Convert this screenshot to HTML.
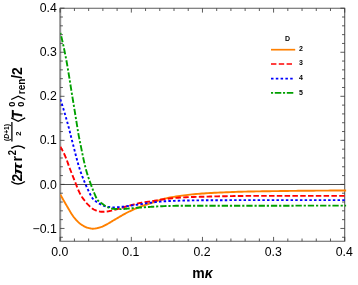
<!DOCTYPE html>
<html><head><meta charset="utf-8">
<style>
html,body{margin:0;padding:0;background:#fff;}
body{width:358px;height:285px;overflow:hidden;font-family:"Liberation Sans",sans-serif;}
svg{display:block;will-change:transform;opacity:0.999}
text{font-family:"Liberation Sans",sans-serif;fill:#000}
.tl{font-size:12.3px}
.b{font-weight:bold}
</style></head><body>
<svg width="358" height="285" viewBox="0 0 358 285">
<rect width="358" height="285" fill="#fff"/>
<!-- zero line -->
<line x1="60.2" y1="184.5" x2="344.7" y2="184.5" stroke="#222" stroke-width="0.8"/>
<!-- frame -->
<path d="M60.2,8.3 H344.7 V241.2 H60.2" fill="none" stroke="#5c5c5c" stroke-width="1.1"/>
<line x1="60.2" y1="7.8" x2="60.2" y2="241.8" stroke="#8e8e8e" stroke-width="2"/>
<defs><clipPath id="cp"><rect x="60.2" y="0" width="286.2" height="285"/></clipPath></defs>
<g id="ticks" stroke="#333" stroke-width="0.8"><line x1="60.20" y1="241.20" x2="60.20" y2="236.90"/><line x1="60.20" y1="8.30" x2="60.20" y2="12.60"/><line x1="74.43" y1="241.20" x2="74.43" y2="238.50"/><line x1="74.43" y1="8.30" x2="74.43" y2="11.00"/><line x1="88.65" y1="241.20" x2="88.65" y2="238.50"/><line x1="88.65" y1="8.30" x2="88.65" y2="11.00"/><line x1="102.88" y1="241.20" x2="102.88" y2="238.50"/><line x1="102.88" y1="8.30" x2="102.88" y2="11.00"/><line x1="117.10" y1="241.20" x2="117.10" y2="238.50"/><line x1="117.10" y1="8.30" x2="117.10" y2="11.00"/><line x1="131.33" y1="241.20" x2="131.33" y2="236.90"/><line x1="131.33" y1="8.30" x2="131.33" y2="12.60"/><line x1="145.56" y1="241.20" x2="145.56" y2="238.50"/><line x1="145.56" y1="8.30" x2="145.56" y2="11.00"/><line x1="159.78" y1="241.20" x2="159.78" y2="238.50"/><line x1="159.78" y1="8.30" x2="159.78" y2="11.00"/><line x1="174.01" y1="241.20" x2="174.01" y2="238.50"/><line x1="174.01" y1="8.30" x2="174.01" y2="11.00"/><line x1="188.23" y1="241.20" x2="188.23" y2="238.50"/><line x1="188.23" y1="8.30" x2="188.23" y2="11.00"/><line x1="202.46" y1="241.20" x2="202.46" y2="236.90"/><line x1="202.46" y1="8.30" x2="202.46" y2="12.60"/><line x1="216.69" y1="241.20" x2="216.69" y2="238.50"/><line x1="216.69" y1="8.30" x2="216.69" y2="11.00"/><line x1="230.91" y1="241.20" x2="230.91" y2="238.50"/><line x1="230.91" y1="8.30" x2="230.91" y2="11.00"/><line x1="245.14" y1="241.20" x2="245.14" y2="238.50"/><line x1="245.14" y1="8.30" x2="245.14" y2="11.00"/><line x1="259.36" y1="241.20" x2="259.36" y2="238.50"/><line x1="259.36" y1="8.30" x2="259.36" y2="11.00"/><line x1="273.59" y1="241.20" x2="273.59" y2="236.90"/><line x1="273.59" y1="8.30" x2="273.59" y2="12.60"/><line x1="287.82" y1="241.20" x2="287.82" y2="238.50"/><line x1="287.82" y1="8.30" x2="287.82" y2="11.00"/><line x1="302.04" y1="241.20" x2="302.04" y2="238.50"/><line x1="302.04" y1="8.30" x2="302.04" y2="11.00"/><line x1="316.27" y1="241.20" x2="316.27" y2="238.50"/><line x1="316.27" y1="8.30" x2="316.27" y2="11.00"/><line x1="330.49" y1="241.20" x2="330.49" y2="238.50"/><line x1="330.49" y1="8.30" x2="330.49" y2="11.00"/><line x1="344.72" y1="241.20" x2="344.72" y2="236.90"/><line x1="344.72" y1="8.30" x2="344.72" y2="12.60"/><line x1="60.20" y1="237.26" x2="62.90" y2="237.26"/><line x1="344.70" y1="237.26" x2="342.00" y2="237.26"/><line x1="60.20" y1="228.45" x2="64.50" y2="228.45"/><line x1="344.70" y1="228.45" x2="340.40" y2="228.45"/><line x1="60.20" y1="219.64" x2="62.90" y2="219.64"/><line x1="344.70" y1="219.64" x2="342.00" y2="219.64"/><line x1="60.20" y1="210.83" x2="62.90" y2="210.83"/><line x1="344.70" y1="210.83" x2="342.00" y2="210.83"/><line x1="60.20" y1="202.02" x2="62.90" y2="202.02"/><line x1="344.70" y1="202.02" x2="342.00" y2="202.02"/><line x1="60.20" y1="193.21" x2="62.90" y2="193.21"/><line x1="344.70" y1="193.21" x2="342.00" y2="193.21"/><line x1="60.20" y1="184.40" x2="64.50" y2="184.40"/><line x1="344.70" y1="184.40" x2="340.40" y2="184.40"/><line x1="60.20" y1="175.59" x2="62.90" y2="175.59"/><line x1="344.70" y1="175.59" x2="342.00" y2="175.59"/><line x1="60.20" y1="166.78" x2="62.90" y2="166.78"/><line x1="344.70" y1="166.78" x2="342.00" y2="166.78"/><line x1="60.20" y1="157.97" x2="62.90" y2="157.97"/><line x1="344.70" y1="157.97" x2="342.00" y2="157.97"/><line x1="60.20" y1="149.16" x2="62.90" y2="149.16"/><line x1="344.70" y1="149.16" x2="342.00" y2="149.16"/><line x1="60.20" y1="140.35" x2="64.50" y2="140.35"/><line x1="344.70" y1="140.35" x2="340.40" y2="140.35"/><line x1="60.20" y1="131.54" x2="62.90" y2="131.54"/><line x1="344.70" y1="131.54" x2="342.00" y2="131.54"/><line x1="60.20" y1="122.73" x2="62.90" y2="122.73"/><line x1="344.70" y1="122.73" x2="342.00" y2="122.73"/><line x1="60.20" y1="113.92" x2="62.90" y2="113.92"/><line x1="344.70" y1="113.92" x2="342.00" y2="113.92"/><line x1="60.20" y1="105.11" x2="62.90" y2="105.11"/><line x1="344.70" y1="105.11" x2="342.00" y2="105.11"/><line x1="60.20" y1="96.30" x2="64.50" y2="96.30"/><line x1="344.70" y1="96.30" x2="340.40" y2="96.30"/><line x1="60.20" y1="87.49" x2="62.90" y2="87.49"/><line x1="344.70" y1="87.49" x2="342.00" y2="87.49"/><line x1="60.20" y1="78.68" x2="62.90" y2="78.68"/><line x1="344.70" y1="78.68" x2="342.00" y2="78.68"/><line x1="60.20" y1="69.87" x2="62.90" y2="69.87"/><line x1="344.70" y1="69.87" x2="342.00" y2="69.87"/><line x1="60.20" y1="61.06" x2="62.90" y2="61.06"/><line x1="344.70" y1="61.06" x2="342.00" y2="61.06"/><line x1="60.20" y1="52.25" x2="64.50" y2="52.25"/><line x1="344.70" y1="52.25" x2="340.40" y2="52.25"/><line x1="60.20" y1="43.44" x2="62.90" y2="43.44"/><line x1="344.70" y1="43.44" x2="342.00" y2="43.44"/><line x1="60.20" y1="34.63" x2="62.90" y2="34.63"/><line x1="344.70" y1="34.63" x2="342.00" y2="34.63"/><line x1="60.20" y1="25.82" x2="62.90" y2="25.82"/><line x1="344.70" y1="25.82" x2="342.00" y2="25.82"/><line x1="60.20" y1="17.01" x2="62.90" y2="17.01"/><line x1="344.70" y1="17.01" x2="342.00" y2="17.01"/><line x1="60.20" y1="8.20" x2="64.50" y2="8.20"/><line x1="344.70" y1="8.20" x2="340.40" y2="8.20"/></g>
<!-- curves -->
<g clip-path="url(#cp)" fill="none" stroke-width="1.9" stroke-linejoin="round">
<path id="c2" stroke="#ff8000" d="M60.30,194.50 L60.80,195.41 L61.30,196.31 L61.80,197.20 L62.30,198.09 L62.80,198.98 L63.30,199.86 L63.80,200.74 L64.30,201.60 L64.80,202.47 L65.30,203.33 L65.80,204.18 L66.30,205.02 L66.80,205.87 L67.30,206.70 L67.80,207.55 L68.30,208.42 L68.80,209.28 L69.30,210.15 L69.80,211.01 L70.30,211.86 L70.80,212.69 L71.30,213.51 L71.80,214.31 L72.30,215.07 L72.80,215.80 L73.30,216.50 L73.80,217.15 L74.30,217.76 L74.80,218.36 L75.30,218.95 L75.80,219.52 L76.30,220.08 L76.80,220.62 L77.30,221.14 L77.80,221.64 L78.30,222.13 L78.80,222.59 L79.30,223.03 L79.80,223.44 L80.30,223.83 L80.80,224.20 L81.30,224.53 L81.80,224.86 L82.30,225.18 L82.80,225.49 L83.30,225.79 L83.80,226.08 L84.30,226.36 L84.80,226.62 L85.30,226.87 L85.80,227.10 L86.30,227.32 L86.80,227.51 L87.30,227.68 L87.80,227.82 L88.30,227.95 L88.80,228.07 L89.30,228.18 L89.80,228.30 L90.30,228.40 L90.80,228.49 L91.30,228.57 L91.80,228.63 L92.30,228.68 L92.80,228.70 L93.30,228.70 L93.80,228.67 L94.30,228.63 L94.80,228.58 L95.30,228.51 L95.80,228.42 L96.30,228.32 L96.80,228.22 L97.30,228.10 L97.80,227.98 L98.30,227.85 L98.80,227.72 L99.30,227.59 L99.80,227.45 L100.30,227.32 L100.80,227.16 L101.30,226.98 L101.80,226.79 L102.30,226.58 L102.80,226.35 L103.30,226.12 L103.80,225.87 L104.30,225.62 L104.80,225.36 L105.30,225.09 L105.80,224.83 L106.30,224.56 L106.80,224.30 L107.30,224.04 L107.80,223.78 L108.30,223.50 L108.80,223.21 L109.30,222.92 L109.80,222.63 L110.30,222.33 L110.80,222.02 L111.30,221.72 L111.80,221.41 L112.30,221.11 L112.80,220.81 L113.30,220.51 L113.80,220.22 L114.30,219.93 L114.80,219.64 L115.30,219.34 L115.80,219.05 L116.30,218.76 L116.80,218.46 L117.30,218.16 L117.80,217.87 L118.30,217.57 L118.80,217.28 L119.30,216.98 L119.80,216.68 L120.30,216.39 L120.80,216.10 L121.30,215.81 L121.80,215.52 L122.30,215.23 L122.80,214.94 L123.30,214.66 L123.80,214.38 L124.30,214.10 L124.80,213.82 L125.30,213.55 L125.80,213.28 L126.30,213.02 L126.80,212.76 L127.30,212.50 L127.80,212.25 L128.30,212.00 L128.80,211.76 L129.30,211.51 L129.80,211.27 L130.30,211.03 L130.80,210.79 L131.30,210.55 L131.80,210.32 L132.30,210.09 L132.80,209.86 L133.30,209.63 L133.80,209.40 L134.30,209.17 L134.80,208.95 L135.30,208.73 L135.80,208.51 L136.30,208.30 L136.80,208.09 L137.30,207.88 L137.80,207.67 L138.30,207.46 L138.80,207.26 L139.30,207.06 L139.80,206.86 L140.30,206.67 L140.80,206.48 L141.30,206.29 L141.80,206.11 L142.30,205.93 L142.80,205.75 L143.30,205.58 L143.80,205.42 L144.30,205.26 L144.80,205.10 L145.30,204.94 L145.80,204.79 L146.30,204.64 L146.80,204.49 L147.30,204.34 L147.80,204.19 L148.30,204.03 L148.80,203.88 L149.30,203.72 L149.80,203.56 L150.30,203.40 L150.80,203.23 L151.30,203.06 L151.80,202.89 L152.30,202.71 L152.80,202.54 L153.30,202.36 L153.80,202.17 L154.30,201.99 L154.80,201.81 L155.30,201.62 L155.80,201.44 L156.30,201.26 L156.80,201.07 L157.30,200.89 L157.80,200.71 L158.30,200.53 L158.80,200.36 L159.30,200.19 L159.80,200.02 L160.00,199.95 L162.00,199.33 L164.00,198.80 L166.00,198.34 L168.00,197.92 L170.00,197.53 L172.00,197.17 L174.00,196.83 L176.00,196.51 L178.00,196.20 L180.00,195.90 L182.00,195.62 L184.00,195.34 L186.00,195.09 L188.00,194.84 L190.00,194.61 L192.00,194.40 L194.00,194.20 L196.00,194.02 L198.00,193.85 L200.00,193.70 L202.00,193.56 L204.00,193.43 L206.00,193.30 L208.00,193.17 L210.00,193.05 L212.00,192.93 L214.00,192.82 L216.00,192.72 L218.00,192.62 L220.00,192.52 L222.00,192.43 L224.00,192.34 L226.00,192.26 L228.00,192.18 L230.00,192.10 L232.00,192.03 L234.00,191.96 L236.00,191.89 L238.00,191.82 L240.00,191.76 L242.00,191.70 L244.00,191.64 L246.00,191.59 L248.00,191.54 L250.00,191.50 L252.00,191.46 L254.00,191.43 L256.00,191.39 L258.00,191.36 L260.00,191.34 L262.00,191.31 L264.00,191.28 L266.00,191.25 L268.00,191.23 L270.00,191.20 L272.00,191.17 L274.00,191.14 L276.00,191.11 L278.00,191.08 L280.00,191.05 L282.00,191.02 L284.00,190.99 L286.00,190.97 L288.00,190.94 L290.00,190.91 L292.00,190.89 L294.00,190.86 L296.00,190.84 L298.00,190.82 L300.00,190.80 L302.00,190.78 L304.00,190.76 L306.00,190.75 L308.00,190.73 L310.00,190.71 L312.00,190.70 L314.00,190.68 L316.00,190.66 L318.00,190.65 L320.00,190.63 L322.00,190.62 L324.00,190.61 L326.00,190.59 L328.00,190.58 L330.00,190.57 L332.00,190.56 L334.00,190.55 L336.00,190.54 L338.00,190.53 L340.00,190.52 L342.00,190.51 L344.00,190.51 L346.00,190.50 L346.30,190.50"/>
<path id="c3" stroke="#ff0000" stroke-dasharray="5.5,2.3" stroke-dashoffset="0.3" d="M60.30,146.70 L60.80,147.51 L61.30,148.36 L61.80,149.25 L62.30,150.16 L62.80,151.11 L63.30,152.09 L63.80,153.10 L64.30,154.14 L64.80,155.23 L65.30,156.35 L65.80,157.52 L66.30,158.75 L66.80,160.07 L67.30,161.47 L67.80,162.92 L68.30,164.37 L68.80,165.81 L69.30,167.20 L69.80,168.52 L70.30,169.77 L70.80,171.00 L71.30,172.25 L71.80,173.52 L72.30,174.79 L72.80,176.07 L73.30,177.35 L73.80,178.63 L74.30,179.92 L74.80,181.20 L75.30,182.47 L75.80,183.74 L76.30,185.01 L76.80,186.30 L77.30,187.59 L77.80,188.83 L78.30,190.00 L78.80,191.10 L79.30,192.17 L79.80,193.20 L80.30,194.17 L80.80,195.09 L81.30,195.93 L81.80,196.71 L82.30,197.45 L82.80,198.15 L83.30,198.82 L83.80,199.48 L84.30,200.13 L84.80,200.79 L85.30,201.44 L85.80,202.08 L86.30,202.70 L86.80,203.30 L87.30,203.87 L87.80,204.40 L88.30,204.89 L88.80,205.37 L89.30,205.85 L89.80,206.32 L90.30,206.78 L90.80,207.23 L91.30,207.67 L91.80,208.08 L92.30,208.47 L92.80,208.84 L93.30,209.18 L93.80,209.48 L94.30,209.75 L94.80,209.98 L95.30,210.17 L95.80,210.36 L96.30,210.54 L96.80,210.71 L97.30,210.88 L97.80,211.04 L98.30,211.19 L98.80,211.33 L99.30,211.45 L99.80,211.56 L100.30,211.65 L100.80,211.72 L101.30,211.77 L101.80,211.80 L102.30,211.80 L102.80,211.79 L103.30,211.78 L103.80,211.75 L104.30,211.72 L104.80,211.69 L105.30,211.65 L105.80,211.61 L106.30,211.56 L106.80,211.52 L107.30,211.47 L107.80,211.41 L108.30,211.33 L108.80,211.24 L109.30,211.15 L109.80,211.04 L110.30,210.93 L110.80,210.81 L111.30,210.68 L111.80,210.56 L112.30,210.43 L112.80,210.30 L113.30,210.17 L113.80,210.05 L114.30,209.93 L114.80,209.80 L115.30,209.68 L115.80,209.54 L116.30,209.41 L116.80,209.27 L117.30,209.13 L117.80,208.99 L118.30,208.85 L118.80,208.70 L119.30,208.56 L119.80,208.41 L120.30,208.26 L120.80,208.11 L121.30,207.96 L121.80,207.81 L122.30,207.66 L122.80,207.51 L123.30,207.36 L123.80,207.21 L124.30,207.07 L124.80,206.92 L125.30,206.77 L125.80,206.63 L126.30,206.49 L126.80,206.35 L127.30,206.21 L127.80,206.08 L128.30,205.95 L128.80,205.82 L129.30,205.68 L129.80,205.55 L130.30,205.42 L130.80,205.28 L131.30,205.15 L131.80,205.01 L132.30,204.88 L132.80,204.75 L133.30,204.61 L133.80,204.48 L134.30,204.35 L134.80,204.22 L135.30,204.09 L135.80,203.97 L136.30,203.84 L136.80,203.72 L137.30,203.60 L137.80,203.48 L138.30,203.37 L138.80,203.25 L139.30,203.15 L139.80,203.04 L140.30,202.94 L140.80,202.84 L141.30,202.74 L141.80,202.65 L142.30,202.57 L142.80,202.48 L143.30,202.41 L143.80,202.33 L144.30,202.26 L144.80,202.19 L145.30,202.12 L145.80,202.06 L146.30,202.00 L146.80,201.93 L147.30,201.87 L147.80,201.80 L148.30,201.74 L148.80,201.67 L149.30,201.60 L149.80,201.53 L150.30,201.45 L150.80,201.38 L151.30,201.30 L151.80,201.22 L152.30,201.13 L152.80,201.05 L153.30,200.97 L153.80,200.88 L154.30,200.79 L154.80,200.70 L155.30,200.62 L155.80,200.53 L156.30,200.44 L156.80,200.35 L157.30,200.26 L157.80,200.17 L158.30,200.09 L158.80,200.00 L159.30,199.92 L159.80,199.83 L160.00,199.80 L162.00,199.48 L164.00,199.20 L166.00,198.94 L168.00,198.69 L170.00,198.46 L172.00,198.23 L174.00,198.03 L176.00,197.85 L178.00,197.70 L180.00,197.57 L182.00,197.45 L184.00,197.34 L186.00,197.24 L188.00,197.15 L190.00,197.07 L192.00,197.00 L194.00,196.94 L196.00,196.89 L198.00,196.85 L200.00,196.80 L202.00,196.75 L204.00,196.70 L206.00,196.65 L208.00,196.59 L210.00,196.54 L212.00,196.49 L214.00,196.43 L216.00,196.39 L218.00,196.34 L220.00,196.29 L222.00,196.25 L224.00,196.22 L226.00,196.18 L228.00,196.15 L230.00,196.12 L232.00,196.08 L234.00,196.05 L236.00,196.02 L238.00,195.99 L240.00,195.97 L242.00,195.94 L244.00,195.93 L246.00,195.91 L248.00,195.90 L250.00,195.90 L252.00,195.90 L254.00,195.90 L256.00,195.90 L258.00,195.90 L260.00,195.90 L262.00,195.90 L264.00,195.90 L266.00,195.90 L268.00,195.90 L270.00,195.90 L272.00,195.90 L274.00,195.90 L276.00,195.90 L278.00,195.90 L280.00,195.90 L282.00,195.90 L284.00,195.90 L286.00,195.90 L288.00,195.90 L290.00,195.90 L292.00,195.90 L294.00,195.90 L296.00,195.90 L298.00,195.90 L300.00,195.90 L302.00,195.90 L304.00,195.90 L306.00,195.90 L308.00,195.90 L310.00,195.90 L312.00,195.90 L314.00,195.90 L316.00,195.90 L318.00,195.90 L320.00,195.90 L322.00,195.90 L324.00,195.90 L326.00,195.90 L328.00,195.90 L330.00,195.90 L332.00,195.90 L334.00,195.90 L336.00,195.90 L338.00,195.90 L340.00,195.90 L342.00,195.90 L344.00,195.90 L346.00,195.90 L346.30,195.90"/>
<path id="c4" stroke="#0000ff" stroke-dasharray="2.5,2.2" d="M60.30,99.20 L60.80,100.68 L61.30,102.19 L61.80,103.73 L62.30,105.30 L62.80,106.89 L63.30,108.51 L63.80,110.16 L64.30,111.83 L64.80,113.52 L65.30,115.24 L65.80,116.97 L66.30,118.72 L66.80,120.50 L67.30,122.28 L67.80,124.09 L68.30,125.90 L68.80,127.74 L69.30,129.65 L69.80,131.62 L70.30,133.63 L70.80,135.65 L71.30,137.65 L71.80,139.62 L72.30,141.54 L72.80,143.49 L73.30,145.45 L73.80,147.42 L74.30,149.39 L74.80,151.36 L75.30,153.31 L75.80,155.25 L76.30,157.17 L76.80,159.05 L77.30,160.90 L77.80,162.71 L78.30,164.47 L78.80,166.17 L79.30,167.82 L79.80,169.39 L80.30,170.89 L80.80,172.34 L81.30,173.75 L81.80,175.11 L82.30,176.43 L82.80,177.71 L83.30,178.97 L83.80,180.20 L84.30,181.41 L84.80,182.61 L85.30,183.79 L85.80,184.97 L86.30,186.12 L86.80,187.25 L87.30,188.34 L87.80,189.39 L88.30,190.40 L88.80,191.42 L89.30,192.44 L89.80,193.46 L90.30,194.45 L90.80,195.41 L91.30,196.33 L91.80,197.18 L92.30,197.95 L92.80,198.64 L93.30,199.22 L93.80,199.72 L94.30,200.16 L94.80,200.57 L95.30,200.95 L95.80,201.33 L96.30,201.70 L96.80,202.06 L97.30,202.41 L97.80,202.74 L98.30,203.05 L98.80,203.35 L99.30,203.64 L99.80,203.90 L100.30,204.15 L100.80,204.39 L101.30,204.64 L101.80,204.88 L102.30,205.11 L102.80,205.34 L103.30,205.56 L103.80,205.76 L104.30,205.96 L104.80,206.14 L105.30,206.30 L105.80,206.44 L106.30,206.57 L106.80,206.67 L107.30,206.75 L107.80,206.83 L108.30,206.90 L108.80,206.97 L109.30,207.04 L109.80,207.11 L110.30,207.17 L110.80,207.22 L111.30,207.27 L111.80,207.31 L112.30,207.35 L112.80,207.37 L113.30,207.39 L113.80,207.40 L114.30,207.40 L114.80,207.39 L115.30,207.37 L115.80,207.35 L116.30,207.32 L116.80,207.29 L117.30,207.25 L117.80,207.20 L118.30,207.16 L118.80,207.11 L119.30,207.06 L119.80,207.01 L120.30,206.97 L120.80,206.92 L121.30,206.87 L121.80,206.82 L122.30,206.77 L122.80,206.71 L123.30,206.65 L123.80,206.59 L124.30,206.52 L124.80,206.45 L125.30,206.39 L125.80,206.32 L126.30,206.25 L126.80,206.18 L127.30,206.11 L127.80,206.04 L128.30,205.97 L128.80,205.91 L129.30,205.84 L129.80,205.77 L130.30,205.70 L130.80,205.63 L131.30,205.56 L131.80,205.49 L132.30,205.42 L132.80,205.35 L133.30,205.28 L133.80,205.20 L134.30,205.13 L134.80,205.06 L135.30,204.99 L135.80,204.91 L136.30,204.84 L136.80,204.77 L137.30,204.69 L137.80,204.62 L138.30,204.55 L138.80,204.47 L139.30,204.40 L139.80,204.32 L140.30,204.25 L140.80,204.18 L141.30,204.10 L141.80,204.03 L142.30,203.96 L142.80,203.88 L143.30,203.80 L143.80,203.73 L144.30,203.65 L144.80,203.57 L145.30,203.49 L145.80,203.41 L146.30,203.33 L146.80,203.26 L147.30,203.18 L147.80,203.10 L148.30,203.03 L148.80,202.96 L149.30,202.89 L149.80,202.83 L150.30,202.76 L150.80,202.70 L151.30,202.63 L151.80,202.57 L152.30,202.51 L152.80,202.44 L153.30,202.38 L153.80,202.32 L154.30,202.26 L154.80,202.20 L155.30,202.13 L155.80,202.07 L156.30,202.02 L156.80,201.96 L157.30,201.90 L157.80,201.85 L158.30,201.79 L158.80,201.74 L159.30,201.69 L159.80,201.64 L160.00,201.62 L162.00,201.44 L164.00,201.30 L166.00,201.18 L168.00,201.08 L170.00,200.99 L172.00,200.90 L174.00,200.83 L176.00,200.76 L178.00,200.70 L180.00,200.64 L182.00,200.59 L184.00,200.54 L186.00,200.50 L188.00,200.46 L190.00,200.42 L192.00,200.40 L194.00,200.38 L196.00,200.36 L198.00,200.35 L200.00,200.33 L202.00,200.32 L204.00,200.30 L206.00,200.29 L208.00,200.28 L210.00,200.27 L212.00,200.26 L214.00,200.25 L216.00,200.24 L218.00,200.23 L220.00,200.22 L222.00,200.21 L224.00,200.20 L226.00,200.20 L228.00,200.18 L230.00,200.17 L232.00,200.16 L234.00,200.15 L236.00,200.14 L238.00,200.13 L240.00,200.12 L242.00,200.12 L244.00,200.11 L246.00,200.10 L248.00,200.10 L250.00,200.10 L252.00,200.10 L254.00,200.10 L256.00,200.10 L258.00,200.10 L260.00,200.10 L262.00,200.10 L264.00,200.10 L266.00,200.10 L268.00,200.10 L270.00,200.10 L272.00,200.10 L274.00,200.10 L276.00,200.10 L278.00,200.10 L280.00,200.10 L282.00,200.10 L284.00,200.10 L286.00,200.10 L288.00,200.10 L290.00,200.10 L292.00,200.10 L294.00,200.10 L296.00,200.10 L298.00,200.10 L300.00,200.10 L302.00,200.10 L304.00,200.10 L306.00,200.10 L308.00,200.10 L310.00,200.10 L312.00,200.10 L314.00,200.10 L316.00,200.10 L318.00,200.10 L320.00,200.10 L322.00,200.10 L324.00,200.10 L326.00,200.10 L328.00,200.10 L330.00,200.10 L332.00,200.10 L334.00,200.10 L336.00,200.10 L338.00,200.10 L340.00,200.10 L342.00,200.10 L344.00,200.10 L346.00,200.10 L346.30,200.10"/>
<path id="c5" stroke="#00a000" stroke-dasharray="6.3,1.9,2.2,1.9" stroke-dashoffset="9" d="M60.40,33.00 L60.90,34.96 L61.40,36.98 L61.90,39.07 L62.40,41.22 L62.90,43.43 L63.40,45.70 L63.90,48.03 L64.40,50.42 L64.90,52.86 L65.40,55.35 L65.90,57.90 L66.40,60.53 L66.90,63.28 L67.40,66.13 L67.90,69.06 L68.40,72.06 L68.90,75.11 L69.40,78.21 L69.90,81.33 L70.40,84.46 L70.90,87.59 L71.40,90.70 L71.90,93.78 L72.40,96.82 L72.90,99.88 L73.40,102.94 L73.90,106.01 L74.40,109.09 L74.90,112.18 L75.40,115.27 L75.90,118.36 L76.40,121.45 L76.90,124.54 L77.40,127.62 L77.90,130.79 L78.40,133.86 L78.90,136.58 L79.40,139.04 L79.90,141.46 L80.40,143.92 L80.90,146.40 L81.40,148.89 L81.90,151.36 L82.40,153.82 L82.90,156.24 L83.40,158.61 L83.90,160.92 L84.40,163.16 L84.90,165.30 L85.40,167.34 L85.90,169.27 L86.40,171.07 L86.90,172.77 L87.40,174.40 L87.90,175.96 L88.40,177.46 L88.90,178.91 L89.40,180.33 L89.90,181.73 L90.40,183.11 L90.90,184.50 L91.40,185.88 L91.90,187.22 L92.40,188.51 L92.90,189.76 L93.40,190.98 L93.90,192.22 L94.40,193.48 L94.90,194.71 L95.40,195.90 L95.90,197.03 L96.40,198.06 L96.90,198.97 L97.40,199.74 L97.90,200.35 L98.40,200.87 L98.90,201.33 L99.40,201.74 L99.90,202.12 L100.40,202.49 L100.90,202.83 L101.40,203.15 L101.90,203.47 L102.40,203.81 L102.90,204.17 L103.40,204.54 L103.90,204.92 L104.40,205.30 L104.90,205.66 L105.40,206.01 L105.90,206.33 L106.40,206.62 L106.90,206.86 L107.40,207.06 L107.90,207.27 L108.40,207.46 L108.90,207.66 L109.40,207.84 L109.90,208.02 L110.40,208.18 L110.90,208.34 L111.40,208.47 L111.90,208.60 L112.40,208.70 L112.90,208.79 L113.40,208.85 L113.90,208.89 L114.40,208.92 L114.90,208.94 L115.40,208.97 L115.90,208.99 L116.40,209.01 L116.90,209.03 L117.40,209.04 L117.90,209.06 L118.40,209.07 L118.90,209.08 L119.40,209.09 L119.90,209.09 L120.40,209.10 L120.90,209.10 L121.40,209.10 L121.90,209.09 L122.40,209.07 L122.90,209.04 L123.40,209.01 L123.90,208.97 L124.40,208.93 L124.90,208.88 L125.40,208.83 L125.90,208.79 L126.40,208.74 L126.90,208.69 L127.40,208.65 L127.90,208.61 L128.40,208.57 L128.90,208.53 L129.40,208.49 L129.90,208.45 L130.40,208.40 L130.90,208.36 L131.40,208.32 L131.90,208.27 L132.40,208.23 L132.90,208.18 L133.40,208.14 L133.90,208.09 L134.40,208.04 L134.90,208.00 L135.40,207.95 L135.90,207.91 L136.40,207.86 L136.90,207.82 L137.40,207.77 L137.90,207.73 L138.40,207.69 L138.90,207.64 L139.40,207.60 L139.90,207.56 L140.40,207.52 L140.90,207.48 L141.40,207.44 L141.90,207.41 L142.40,207.37 L142.90,207.34 L143.40,207.30 L143.90,207.27 L144.40,207.24 L144.90,207.21 L145.40,207.18 L145.90,207.14 L146.40,207.11 L146.90,207.08 L147.40,207.05 L147.90,207.02 L148.40,207.00 L148.90,206.97 L149.40,206.94 L149.90,206.91 L150.40,206.88 L150.90,206.84 L151.40,206.81 L151.90,206.78 L152.40,206.75 L152.90,206.72 L153.40,206.68 L153.90,206.65 L154.40,206.62 L154.90,206.59 L155.40,206.55 L155.90,206.52 L156.40,206.49 L156.90,206.46 L157.40,206.42 L157.90,206.39 L158.40,206.36 L158.90,206.33 L159.40,206.31 L159.90,206.28 L160.00,206.27 L162.00,206.18 L164.00,206.10 L166.00,206.04 L168.00,205.98 L170.00,205.93 L172.00,205.89 L174.00,205.85 L176.00,205.82 L178.00,205.80 L180.00,205.78 L182.00,205.77 L184.00,205.76 L186.00,205.74 L188.00,205.73 L190.00,205.72 L192.00,205.72 L194.00,205.71 L196.00,205.70 L198.00,205.70 L200.00,205.70 L202.00,205.70 L204.00,205.70 L206.00,205.70 L208.00,205.70 L210.00,205.70 L212.00,205.70 L214.00,205.70 L216.00,205.70 L218.00,205.70 L220.00,205.70 L222.00,205.70 L224.00,205.70 L226.00,205.70 L228.00,205.70 L230.00,205.70 L232.00,205.70 L234.00,205.70 L236.00,205.70 L238.00,205.70 L240.00,205.70 L242.00,205.70 L244.00,205.70 L246.00,205.70 L248.00,205.70 L250.00,205.70 L252.00,205.70 L254.00,205.70 L256.00,205.70 L258.00,205.70 L260.00,205.70 L262.00,205.70 L264.00,205.70 L266.00,205.70 L268.00,205.70 L270.00,205.69 L272.00,205.69 L274.00,205.69 L276.00,205.69 L278.00,205.69 L280.00,205.69 L282.00,205.69 L284.00,205.68 L286.00,205.68 L288.00,205.68 L290.00,205.68 L292.00,205.68 L294.00,205.68 L296.00,205.67 L298.00,205.67 L300.00,205.67 L302.00,205.67 L304.00,205.66 L306.00,205.66 L308.00,205.66 L310.00,205.66 L312.00,205.65 L314.00,205.65 L316.00,205.65 L318.00,205.65 L320.00,205.64 L322.00,205.64 L324.00,205.64 L326.00,205.63 L328.00,205.63 L330.00,205.63 L332.00,205.62 L334.00,205.62 L336.00,205.62 L338.00,205.61 L340.00,205.61 L342.00,205.61 L344.00,205.60 L346.00,205.60 L346.30,205.60"/>
</g>
<!-- tick labels -->
<g class="tl" text-anchor="end">
<text x="56.8" y="12.3">0.4</text>
<text x="56.8" y="56.4">0.3</text>
<text x="56.8" y="100.4">0.2</text>
<text x="56.8" y="144.4">0.1</text>
<text x="56.8" y="188.5">0.0</text>
<text x="56.8" y="232.6">−0.1</text>
</g>
<g class="tl" text-anchor="middle">
<text x="59.8" y="255.7">0.0</text>
<text x="130.9" y="255.7">0.1</text>
<text x="202.1" y="255.7">0.2</text>
<text x="273.2" y="255.7">0.3</text>
<text x="344.3" y="255.7">0.4</text>
</g>
<text class="b" x="192.2" y="278.1" font-size="14">m<tspan font-style="italic">κ</tspan></text>
<!-- y label -->
<g id="ylab" transform="translate(22,184.6) rotate(-90)" class="b">
<path d="M3.1,-10.7 Q-1.9,-3.9 3.1,2.9" fill="none" stroke="#000" stroke-width="1.5"/>
<text font-size="14" x="3.2" y="0">2</text>
<text font-size="13.6" transform="translate(9.6,0) scale(1.3,1)" x="0" y="0" font-style="italic">π</text>
<text font-size="14" x="23" y="0">r</text>
<text font-size="10.5" transform="translate(29.3,-6.1) scale(0.9,1)" x="0" y="0">2</text>
<path d="M36.2,-10.7 Q41.2,-3.9 36.2,2.9" fill="none" stroke="#000" stroke-width="1.5"/>
<text font-size="6.7" x="52.2" y="-13" text-anchor="middle">(<tspan font-style="italic">D</tspan>+1)</text>
<line x1="43.1" y1="-10.1" x2="62.7" y2="-10.1" stroke="#000" stroke-width="1.3"/>
<text font-size="7.6" x="51.1" y="-1.3" text-anchor="middle">2</text>
<path d="M66.7,-10.8 L63.3,-3.8 L66.7,3.2" fill="none" stroke="#000" stroke-width="1.3"/>
<text font-size="13.8" transform="translate(66.2,0) scale(0.9,1)" x="0" y="0" font-style="italic" stroke="#000" stroke-width="0.35">T</text>
<text font-size="9.2" x="77.9" y="-7.3">0</text>
<text font-size="9.2" x="77.9" y="2.2">0</text>
<path d="M85.1,-10.8 L88.5,-3.8 L85.1,3.2" fill="none" stroke="#000" stroke-width="1.3"/>
<text font-size="10" x="90.4" y="2.7">ren</text>
<text font-size="14" x="105.8" y="0">/2</text>
</g>
<!-- legend -->
<text class="b" x="287.5" y="41.2" font-size="7" text-anchor="middle">D</text>
<g stroke-width="1.7" fill="none">
<line x1="271" y1="49.7" x2="295.2" y2="49.7" stroke="#ff8000"/>
<line x1="271" y1="64" x2="292.2" y2="64" stroke="#ff0000" stroke-dasharray="5.4,2.4"/>
<line x1="271" y1="78.6" x2="293.2" y2="78.6" stroke="#0000ff" stroke-dasharray="2.5,2.3"/>
<line x1="271" y1="92.9" x2="294" y2="92.9" stroke="#00a000" stroke-dasharray="6.5,1.7,2.1,1.7" stroke-dashoffset="8.2"/>
</g>
<g class="b" font-size="7" font-weight="bold">
<text x="299" y="50.8">2</text>
<text x="299" y="65.4">3</text>
<text x="299" y="80">4</text>
<text x="299" y="94.6">5</text>
</g>
</svg>
</body></html>
